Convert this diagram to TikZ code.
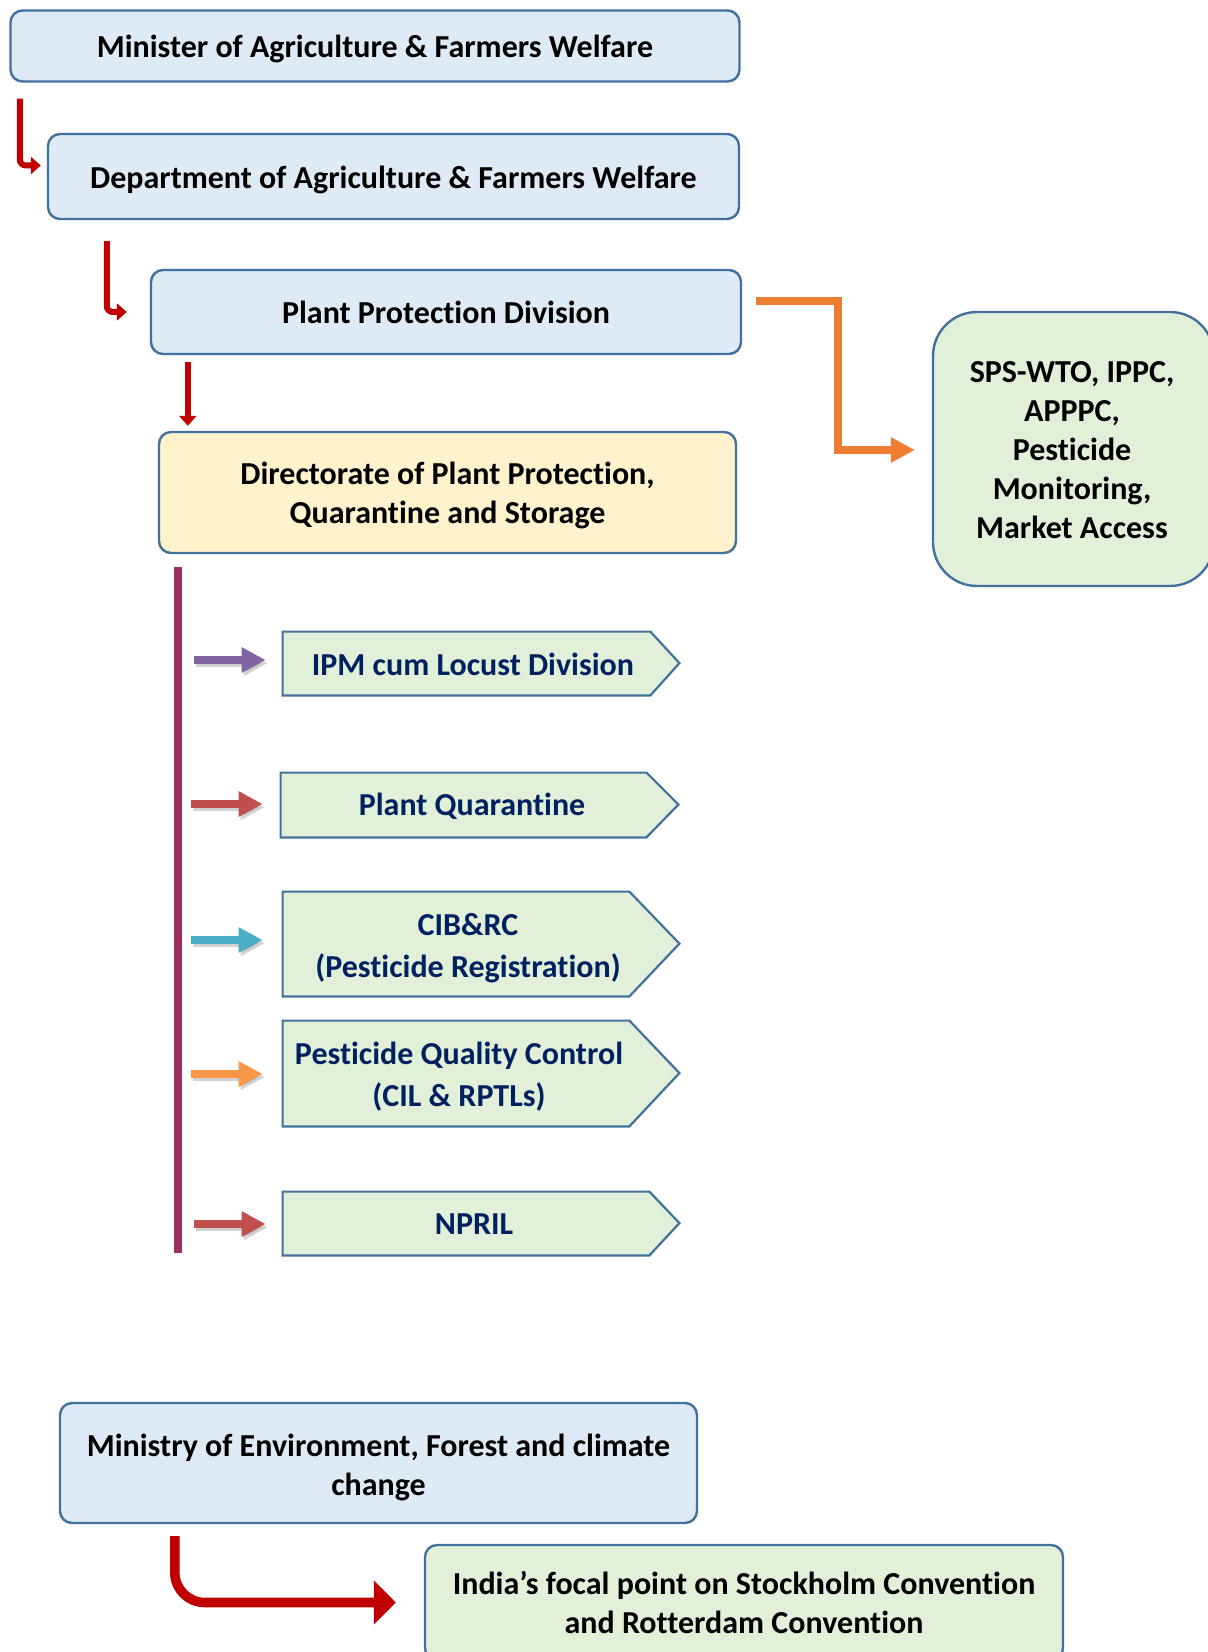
\documentclass[tikz,border=0pt]{standalone}
\usepackage{fontspec}
\setmainfont{Carlito}[Ligatures=NoCommon]
\usetikzlibrary{arrows.meta,calc}
\definecolor{boxblue}{HTML}{DEEBF7}
\definecolor{boxborder}{HTML}{41719C}
\definecolor{boxyellow}{HTML}{FFF2CC}
\definecolor{boxgreen}{HTML}{E2F0D9}
\definecolor{navy}{HTML}{002060}
\definecolor{darkred}{HTML}{C00000}
\definecolor{orangeA}{HTML}{ED7D31}
\definecolor{vpurple}{HTML}{9B2F5F}
\definecolor{apurple}{HTML}{8064A2}
\definecolor{ared}{HTML}{C0504D}
\definecolor{ablue}{HTML}{4BACC6}
\definecolor{aorange}{HTML}{F79646}
\begin{document}
\begin{tikzpicture}[x=0.5pt,y=-0.5pt,
  font=\bfseries\fontsize{16}{19.5}\selectfont,
  box/.style={draw=boxborder, line width=1.2pt, rounded corners=6pt, fill=boxblue, align=center, inner sep=0pt},
  boxtext/.style={align=center, inner sep=0pt},
  chevbox/.style={inner sep=0pt},
  chev/.style={draw=boxborder, line width=1.1pt, fill=boxgreen},
  chevtext/.style={text=navy, align=center, inner sep=0pt, font=\bfseries\fontsize{16}{21}\selectfont},
  redarr/.style={draw=darkred, line width=3pt, -{Triangle[length=5pt,width=8.5pt]}, rounded corners=3pt},
  smallarr/.style={line width=3.8pt, -{Triangle[length=12pt,width=12pt]}},
  arrshadow/.style={smallarr, draw=black, opacity=0.18, transform canvas={xshift=1pt,yshift=-1.6pt}},
]
\useasboundingbox (0,0) rectangle (1208,1652);
\clip (0,0) rectangle (1208,1652);

% main boxes
\node[box, minimum width=364.5pt, minimum height=35.5pt] (minister) at (375,46) {};
\node[boxtext] (ministertext) at (375,49) {Minister of Agriculture \& Farmers Welfare};
\node[box, minimum width=345.5pt, minimum height=42.5pt] (dept) at (393.5,176.5) {};
\node[boxtext] (depttext) at (393.5,179.5) {Department of Agriculture \& Farmers Welfare};
\node[box, minimum width=295pt, minimum height=42pt] (ppd) at (446,312) {Plant Protection Division};
\node[box, fill=boxyellow, minimum width=288.5pt, minimum height=60.5pt] (dir) at (447.5,492.5) {};
\node[boxtext] (dirtext) at (447.5,495.5) {Directorate of Plant Protection,\\Quarantine and Storage};
\node[box, fill=boxgreen, rounded corners=22pt, minimum width=140.5pt, minimum height=137pt] (sps) at (1073.5,449) {};
\node[boxtext] (spstext) at (1072,450.5) {SPS-WTO, IPPC,\\APPPC,\\Pesticide\\Monitoring,\\Market Access};

% connectors at top
\draw[redarr] ($(minister.south west)+(10.5,16)$) |- ($(dept.west)+(-6,-11)$);
\draw[redarr] ($(dept.south west)+(60,21)$) |- ($(ppd.west)+(-23,0)$);
\draw[redarr] ($(ppd.south west)+(38,7)$) -- ($(dir.north west)+(30,-5)$);
\draw[orangeA, line width=4pt, -{Triangle[length=12pt,width=12pt]}] ($(ppd.east)+(14,-11)$) -- ++(82,0) |- ($(sps.west)+(-17,1)$);

% vertical bar
\coordinate (vtop) at ($(dir.south west)+(20,13)$);
\coordinate (vbot) at (179,1253);
\draw[vpurple, line width=4.2pt] (vtop) -- (vtop |- vbot);

% chevrons
\node[chevbox, minimum width=183.5pt, minimum height=31.5pt] (ipm) at (466.5,663.5) {};
\path[chev] (ipm.north west) -- (ipm.north east) -- ++(29,31.5) -- (ipm.south east) -- (ipm.south west) -- cycle;
\node[chevtext] (ipmtext) at (473,664) {IPM cum Locust Division};

\node[chevbox, minimum width=182.5pt, minimum height=32pt] (pq) at (463.5,805) {};
\path[chev] (pq.north west) -- (pq.north east) -- ++(32,32) -- (pq.south east) -- (pq.south west) -- cycle;
\node[chevtext] (pqtext) at (472,806.5) {Plant Quarantine};

\node[chevbox, minimum width=173pt, minimum height=52pt] (cib) at (456,944) {};
\path[chev] (cib.north west) -- (cib.north east) -- ++(50,52) -- (cib.south east) -- (cib.south west) -- cycle;
\node[chevtext] (cibtext) at (468,948) {CIB\&RC\\(Pesticide Registration)};

\node[chevbox, minimum width=173pt, minimum height=52.5pt] (pqc) at (456,1073.5) {};
\path[chev] (pqc.north west) -- (pqc.north east) -- ++(50,52.5) -- (pqc.south east) -- (pqc.south west) -- cycle;
\node[chevtext] (pqctext) at (459,1077) {Pesticide Quality Control\\(CIL \& RPTLs)};

\node[chevbox, minimum width=183pt, minimum height=31.5pt] (npril) at (466,1223.5) {};
\path[chev] (npril.north west) -- (npril.north east) -- ++(30,31.5) -- (npril.south east) -- (npril.south west) -- cycle;
\node[chevtext] (npriltext) at (474,1224.5) {NPRIL};

% small arrows (with soft shadow)
\draw[arrshadow] ($(ipm.west)+(-89,-3.5)$) -- ($(ipm.west)+(-17,-3.5)$);
\draw[arrshadow] ($(pq.west)+(-90,-1)$) -- ($(pq.west)+(-18,-1)$);
\draw[arrshadow] ($(cib.west)+(-92,-4)$) -- ($(cib.west)+(-20,-4)$);
\draw[arrshadow] ($(pqc.west)+(-92,0.5)$) -- ($(pqc.west)+(-20,0.5)$);
\draw[arrshadow] ($(npril.west)+(-89,0.5)$) -- ($(npril.west)+(-17,0.5)$);
\draw[smallarr, apurple] ($(ipm.west)+(-89,-3.5)$) -- ($(ipm.west)+(-17,-3.5)$);
\draw[smallarr, ared] ($(pq.west)+(-90,-1)$) -- ($(pq.west)+(-18,-1)$);
\draw[smallarr, ablue] ($(cib.west)+(-92,-4)$) -- ($(cib.west)+(-20,-4)$);
\draw[smallarr, aorange] ($(pqc.west)+(-92,0.5)$) -- ($(pqc.west)+(-20,0.5)$);
\draw[smallarr, ared] ($(npril.west)+(-89,0.5)$) -- ($(npril.west)+(-17,0.5)$);

% bottom part
\node[box, minimum width=318.5pt, minimum height=60pt] (moef) at (378.5,1463) {};
\node[boxtext] (moeftext) at (378.5,1467) {Ministry of Environment, Forest and climate\\change};
\node[box, fill=boxgreen, minimum width=319pt, minimum height=57.5pt] (india) at (744,1602.5) {India’s focal point on Stockholm Convention\\and Rotterdam Convention};
\draw[darkred, line width=4.8pt, rounded corners=15pt, -{Triangle[length=11pt,width=21.5pt]}] ($(moef.south west)+(116,12)$) |- ($(india.west)+(-28,0)$);
\end{tikzpicture}
\end{document}
